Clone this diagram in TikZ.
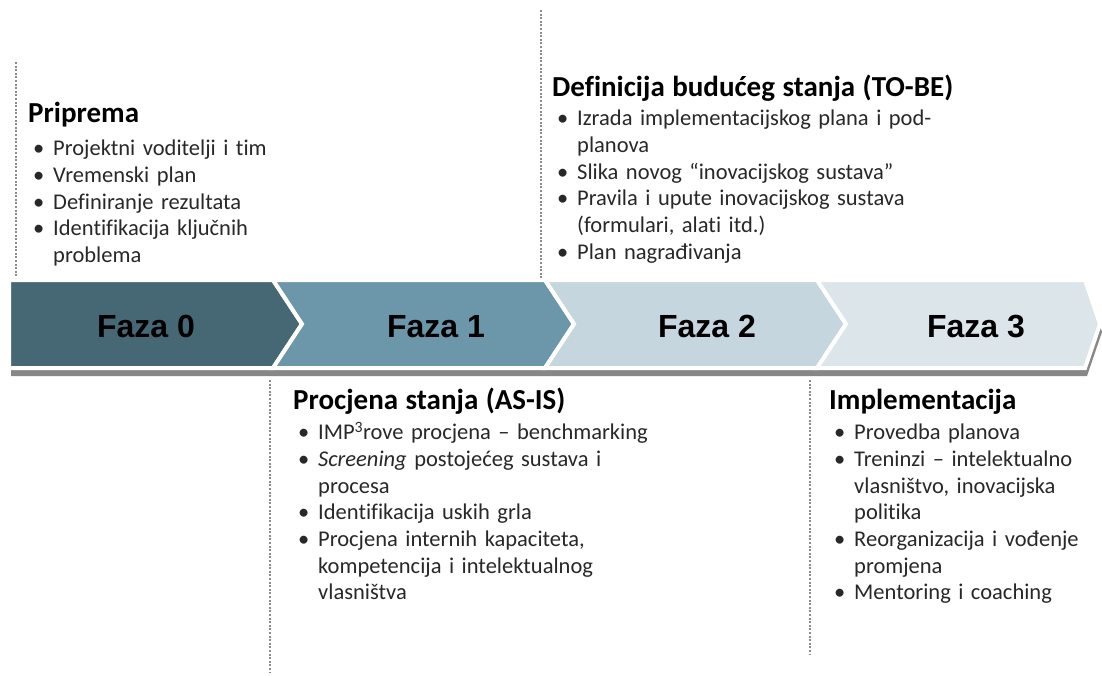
\documentclass[tikz,border=0pt]{standalone}
\usepackage{fontspec}
\setmainfont{Carlito}[Ligatures=NoCommon]
\newfontfamily\fazafont{Liberation Sans}
\definecolor{fzA}{RGB}{70,104,117}
\definecolor{fzB}{RGB}{108,150,170}
\definecolor{fzC}{RGB}{197,214,222}
\definecolor{fzD}{RGB}{220,229,234}
\definecolor{shadowgray}{RGB}{135,135,135}
\definecolor{dotgray}{RGB}{140,140,140}
\definecolor{txtgray}{RGB}{40,40,40}
\newcommand\headline[2][0pt]{\raggedright{\fontsize{29}{29}\selectfont\bfseries\color{black}#2\par}\vspace{#1}}
\newcommand\bitm[1]{\par\hangindent=25pt\hangafter=1\noindent\hbox to 25pt{\hskip 5pt•\hfil}#1}
\begin{document}
\begin{tikzpicture}[x=1pt,y=-1pt,
  chev/.style={draw=white,line width=4pt,line join=miter},
  dots/.style={draw=dotgray,line width=2.2pt,dash pattern=on 2pt off 1.6pt},
  faza/.style={font=\fazafont\bfseries\fontsize{32}{32}\selectfont,text=black,inner sep=0pt,anchor=base},
  block/.style={anchor=base west,inner sep=0pt,text width=470pt,font=\fontsize{22.5}{26.7}\selectfont,text=txtgray},
]
\useasboundingbox[fill=white] (0,0) rectangle (1102,675);
% shadow
\fill[shadowgray] (11,288) -- (1087,288) -- (1102,332) -- (1087,376) -- (11,376) -- cycle;
% chevrons
\filldraw[chev,fill=fzA] (9,280) -- (273,280) -- (302,324) -- (273,368) -- (9,368) -- cycle;
\filldraw[chev,fill=fzB] (273,280) -- (545,280) -- (574,324) -- (545,368) -- (273,368) -- (302,324) -- cycle;
\filldraw[chev,fill=fzC] (545,280) -- (817,280) -- (846,324) -- (817,368) -- (545,368) -- (574,324) -- cycle;
\filldraw[chev,fill=fzD] (817,280) -- (1085,280) -- (1100,324) -- (1085,368) -- (817,368) -- (846,324) -- cycle;
\node[faza] (f0) at (146,337) {Faza 0};
\node[faza] (f1) at (436,337) {Faza 1};
\node[faza] (f2) at (707,337) {Faza 2};
\node[faza] (f3) at (976,337) {Faza 3};
% dotted lines
\coordinate (d0t) at (16,62);  \coordinate (d0b) at (16,278);
\coordinate (d2t) at (541,10); \coordinate (d2b) at (541,278);
\coordinate (d1t) at (270,380); \coordinate (d1b) at (270,672);
\coordinate (d3t) at (810,380); \coordinate (d3b) at (810,655);
\draw[dots] (d0t) -- (d0b);
\draw[dots] (d2t) -- (d2b);
\draw[dots] (d1t) -- (d1b);
\draw[dots] (d3t) -- (d3b);
% text blocks
\node[block] (prip) at (28,122) {\headline[7pt]{Priprema}%
\bitm{Projektni voditelji i tim}%
\bitm{Vremenski plan}%
\bitm{Definiranje rezultata}%
\bitm{Identifikacija ključnih\newline problema}\par};
\node[block] (tobe) at (552,96) {\headline[3pt]{Definicija budućeg stanja (TO-BE)}%
\bitm{Izrada implementacijskog plana i pod-\newline planova}%
\bitm{Slika novog “inovacijskog sustava”}%
\bitm{Pravila i upute inovacijskog sustava\newline (formulari, alati itd.)}%
\bitm{Plan nagrađivanja}\par};
\node[block] (asis) at (293,409) {\headline[4pt]{Procjena stanja (AS-IS)}%
\bitm{IMP\textsuperscript{3}rove procjena – benchmarking}%
\bitm{\textit{Screening} postojećeg sustava i\newline procesa}%
\bitm{Identifikacija uskih grla}%
\bitm{Procjena internih kapaciteta,\newline kompetencija i intelektualnog\newline vlasništva}\par};
\node[block] (impl) at (829,409) {\headline[4pt]{Implementacija}%
\bitm{Provedba planova}%
\bitm{Treninzi – intelektualno\newline vlasništvo, inovacijska\newline politika}%
\bitm{Reorganizacija i vođenje\newline promjena}%
\bitm{Mentoring i coaching}\par};
\end{tikzpicture}
\end{document}
